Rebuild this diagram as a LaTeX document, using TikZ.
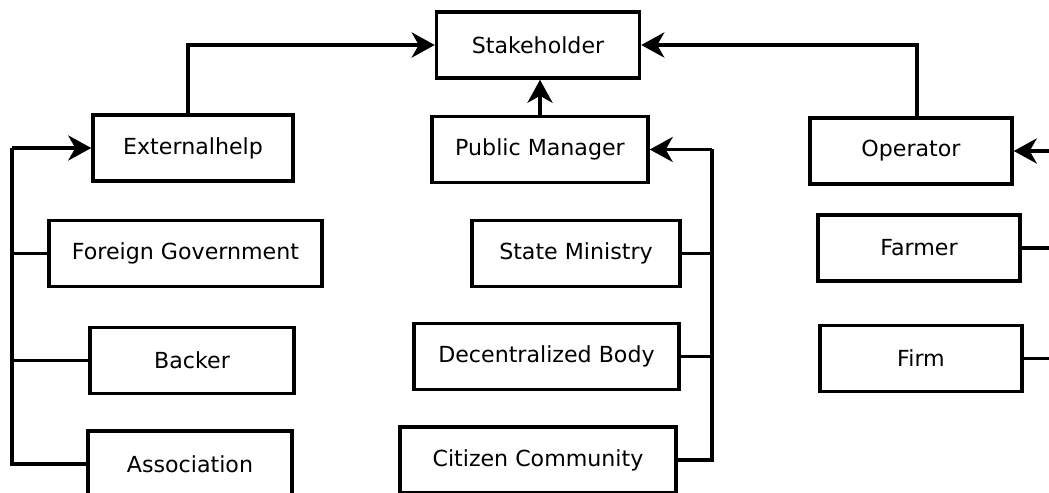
\documentclass[tikz,border=0pt]{standalone}
\usepackage{fontspec}
\setmainfont{DejaVu Sans}
\usetikzlibrary{arrows.meta,positioning}
\tikzset{box/.style={draw,line width=2pt,minimum height=1.32cm,inner sep=2pt}}

\begin{document}
\begin{tikzpicture}[x=0.02cm,y=-0.02cm,>={Stealth[length=0.46cm,width=0.5cm,inset=0.14cm]},line width=2.2pt,font=\fontsize{12.6}{14}\selectfont]
\useasboundingbox (0,0) rectangle (1049,493);
\clip (0,0) rectangle (1049,493);
% --- top row
\node[box,minimum width=4.06cm] (stake) at (538,45) {Stakeholder};
\node[box,minimum width=4.0cm] (ext) at (193,148) {Externalhelp};
\node[box,minimum width=4.32cm] (pm) at (540,149.5) {Public Manager};
\node[box,minimum width=4.04cm] (op) at (911,151) {Operator};
% --- left column
\node[box,minimum width=5.46cm] (fg) at (185.5,253.5) {Foreign Government};
\node[box,minimum width=4.08cm] (backer) at (192,360.5) {Backer};
\node[box,minimum width=4.08cm] (assoc) at (190,464) {Association};
% --- middle column
\node[box,minimum width=4.16cm] (sm) at (576,253.5) {State Ministry};
\node[box,minimum width=5.3cm] (decb) at (546.5,356.5) {Decentralized Body};
\node[box,minimum width=5.52cm] (citc) at (538,460) {Citizen Community};
% --- right column
\node[box,minimum width=4.04cm] (farmer) at (919,248) {Farmer};
\node[box,minimum width=4.04cm] (firm) at (921,358.5) {Firm};
% --- buses
\coordinate (lbus) at (12,148);
\coordinate (mbus) at (712,149.5);
\coordinate (rbus) at (1080,151);
% --- connectors
\draw[->] ([xshift=-0.1cm]ext.north) |- (stake.west);
\draw[->] ([xshift=0.12cm]op.north) |- (stake.east);
\draw[->] (pm.north) -- (pm.north |- stake.south);
\draw[->] (lbus) -- (ext.west);
\foreach \n in {fg,backer,assoc} \draw (\n.west) -| (lbus);
\draw[->] (mbus) -- (pm.east);
\foreach \n in {sm,decb,citc} \draw (\n.east) -| (mbus);
\draw[->] (rbus) -- (op.east);
\foreach \n in {farmer,firm} \draw (\n.east) -| (rbus);
\end{tikzpicture}
\end{document}
